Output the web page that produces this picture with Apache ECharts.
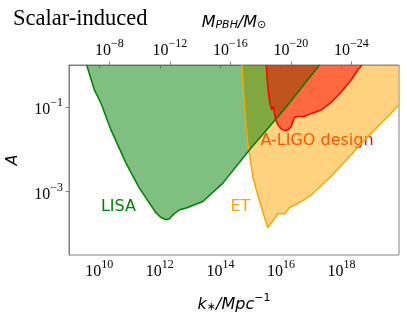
<!DOCTYPE html>
<html><head><meta charset="utf-8">
<script src="https://cdn.jsdelivr.net/npm/echarts@6/dist/echarts.min.js"></script>
<style>html,body{margin:0;padding:0;background:#fff}#c{width:407px;height:319px}</style>
</head><body><div id="c"></div>
<script>
// All values are log10 exponents: x = log10(k* / Mpc^-1), y = log10(A)
const lisaLogK = [9.584, 9.838, 10.056, 10.386, 10.881, 11.323, 11.878, 12.026, 12.208, 12.323, 12.432, 12.653, 12.875, 13.422, 14.083, 14.964, 16.119, 17.274];
const lisaLogA = [0, -0.591, -0.905, -1.537, -2.324, -2.915, -3.506, -3.605, -3.664, -3.641, -3.546, -3.428, -3.388, -3.232, -2.797, -2.009, -1.040, 0];

const etLogK = [14.710, 14.766, 14.832, 14.908, 14.987, 15.073, 15.185, 15.350, 15.515, 15.568, 15.680, 15.845, 15.890, 15.940, 16.119, 16.284, 16.505, 16.944, 17.604, 18.264, 18.924, 19.584, 19.891];
const etLogA = [0, -0.669, -1.300, -1.851, -2.246, -2.641, -2.955, -3.350, -3.742, -3.853, -3.742, -3.586, -3.525, -3.570, -3.522, -3.374, -3.300, -3.113, -2.678, -2.168, -1.655, -1.182, -0.946];

const ligoLogK = [15.515, 15.548, 15.591, 15.634, 15.700, 15.756, 15.812, 15.898, 16.010, 16.119, 16.228, 16.340, 16.393, 16.449, 16.558, 16.779, 17.010, 17.330, 17.660, 17.990, 18.320, 18.538, 18.677];
const ligoLogA = [0, -0.355, -0.669, -0.905, -1.064, -0.986, -1.260, -1.418, -1.513, -1.553, -1.537, -1.459, -1.340, -1.241, -1.222, -1.217, -1.147, -1.064, -0.887, -0.638, -0.355, -0.118, 0];

const bottomTicks = [10, 12, 14, 16, 18];      // log10 k*
const topTicks = [-8, -12, -16, -20, -24];     // log10 M_PBH/M_sun
const leftTicks = [-1, -3];                    // log10 A
const kRange = [9, 19.9];
const aRange = [-4.5, 0];
const massOffset = 12.66;                      // log10 M = massOffset - 2 log10 k

const regionNames = ['LISA', 'ET', 'A-LIGO design'];
const labelLogK = [10.634, 14.660, 17.191];
const labelLogA = [-3.369, -3.369, -1.785];

const pairs = (xs, ys) => xs.map((x, i) => [x, ys[i]]);
const pow10 = n => '{base|10}{sup|' + (n < 0 ? '\u2212' + (-n) : n) + '}';
const tickRich = {
  base: {fontFamily: 'Liberation Serif', fontSize: 16, lineHeight: 16, verticalAlign: 'bottom', color: '#000'},
  sup: {fontFamily: 'Liberation Serif', fontSize: 12, lineHeight: 12, padding: [0, 0, 9, 0], verticalAlign: 'bottom', color: '#000'}
};
const nameRich = {
  it: {fontFamily: 'DejaVu Sans', fontStyle: 'italic', fontSize: 16, lineHeight: 20, verticalAlign: 'bottom', color: '#000'},
  lo: {fontFamily: 'DejaVu Sans', fontStyle: 'italic', fontSize: 11, lineHeight: 14, verticalAlign: 'bottom', color: '#000'},
  hi: {fontFamily: 'DejaVu Sans', fontSize: 11, lineHeight: 20, verticalAlign: 'top', color: '#000'}
};
const axisGray = '#808080';
const tickLabel = {fontFamily: 'Liberation Serif', fontSize: 16, color: '#000', rich: tickRich, formatter: v => pow10(v)};

const regions = [
  {data: pairs(etLogK, etLogA), line: '#FFA500', fill: 'rgba(255,165,0,0.5)'},
  {data: pairs(lisaLogK, lisaLogA), line: '#008000', fill: 'rgba(0,128,0,0.5)'},
  {data: pairs(ligoLogK, ligoLogA), line: '#FF0000', fill: 'rgba(255,0,0,0.5)'}
];
const series = [];
regions.forEach(r => series.push({
  type: 'line', data: r.data, symbol: 'none', xAxisIndex: 0, yAxisIndex: 0,
  lineStyle: {width: 0}, areaStyle: {origin: 'end', color: r.fill, opacity: 1}, silent: true
}));
regions.forEach(r => series.push({
  type: 'line', data: r.data, symbol: 'none', xAxisIndex: 0, yAxisIndex: 0,
  lineStyle: {width: 1.5, color: r.line}, silent: true
}));
const labelColors = ['#008000', '#FFA500', '#FF0000'];
series.push({
  type: 'scatter', symbolSize: 0, xAxisIndex: 0, yAxisIndex: 0, silent: true,
  itemStyle: {opacity: 0},
  data: regionNames.map((n, i) => ({value: [labelLogK[i], labelLogA[i]], name: n,
    label: {show: true, position: 'inside', formatter: n, color: labelColors[i],
      textBorderWidth: 0, textBorderColor: 'transparent', opacity: 1,
      fontFamily: 'DejaVu Sans', fontSize: 16}}))
});

const chart = echarts.init(document.getElementById('c'), null, {renderer: 'canvas'});
chart.setOption({
  animation: false,
  backgroundColor: '#fff',
  title: {text: 'Scalar-induced', left: 8, top: 3,
    textStyle: {fontFamily: 'Liberation Serif', fontSize: 22.5, fontWeight: 'normal', color: '#000'}},
  grid: {left: 69, right: 8, top: 65, bottom: 64, show: true, borderColor: axisGray, borderWidth: 1,
    containLabel: false, outerBoundsMode: 'none'},
  xAxis: [{
    type: 'value', position: 'bottom', min: kRange[0], max: kRange[1],
    axisLine: {show: true, lineStyle: {color: axisGray}},
    splitLine: {show: false},
    axisTick: {show: true, length: 3.5, lineStyle: {color: axisGray}, customValues: bottomTicks},
    axisLabel: Object.assign({customValues: bottomTicks, margin: 9}, tickLabel),
    name: '{it|k}{lo|\u2217}{it|/Mpc}{hi|\u22121}', nameLocation: 'middle', nameGap: 38,
    nameTextStyle: {rich: nameRich}
  }, {
    type: 'value', position: 'top', inverse: true,
    min: massOffset - 2 * kRange[1], max: massOffset - 2 * kRange[0],
    axisLine: {show: true, lineStyle: {color: axisGray}},
    splitLine: {show: false},
    axisTick: {show: true, length: 3.5, lineStyle: {color: axisGray}, customValues: topTicks},
    axisLabel: Object.assign({customValues: topTicks, margin: 6}, tickLabel),
    name: '{it|M}{lo|PBH}{it|/M}{lo|\u2299}', nameLocation: 'middle', nameGap: 34,
    nameTextStyle: {rich: nameRich}
  }],
  yAxis: [{
    type: 'value', min: aRange[0], max: aRange[1],
    axisLine: {show: true, lineStyle: {color: axisGray}},
    splitLine: {show: false},
    axisTick: {show: true, length: 3.5, lineStyle: {color: axisGray}, customValues: leftTicks},
    axisLabel: Object.assign({customValues: leftTicks, margin: 6, padding: [6, 0, 0, 0]}, tickLabel),
    name: '{it|A}', nameLocation: 'middle', nameGap: 48, nameRotate: 90,
    nameTextStyle: {rich: nameRich}
  }],
  series: series
});
</script></body></html>
